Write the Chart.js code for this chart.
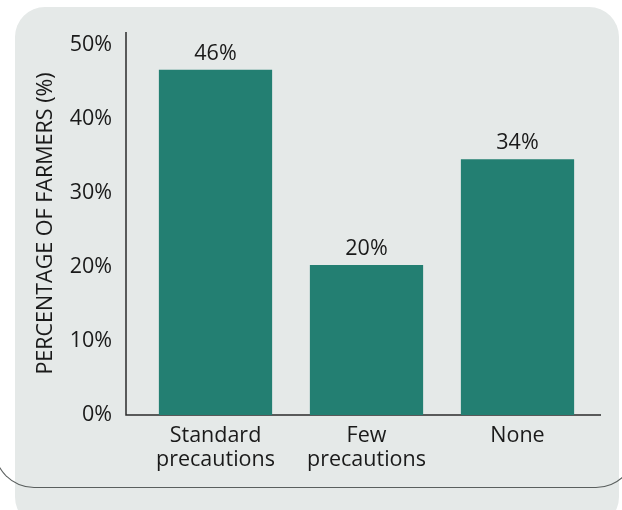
<!DOCTYPE html>
<html>
<head>
<meta charset="utf-8">
<script src="https://cdn.jsdelivr.net/npm/chart.js@4"></script>
<style>
  html, body { margin: 0; padding: 0; background: #fff; }
  #wrap { position: relative; width: 622px; height: 510px; overflow: hidden; }
  #panel {
    position: absolute; left: 15px; top: 7px; width: 604px; height: 520px;
    background: #e5e9e8; border-radius: 30px;
  }
  #rule {
    position: absolute; left: -6px; top: 300px; width: 640px; height: 187px;
    border: 1.5px solid #5a5f5e; border-top: none;
    border-radius: 0 0 40px 40px;
  }
  #chart-box { position: absolute; left: 0; top: 0; width: 622px; height: 510px; }
</style>
</head>
<body>
<div id="wrap">
  <div id="panel"></div>
  <div id="rule"></div>
  <div id="chart-box"><canvas id="chart"></canvas></div>
</div>
<script>
const categories = [['Standard', 'precautions'], ['Few', 'precautions'], 'None'];
const farmerShare = [46.7, 20.3, 34.6];
const valueLabels = ['46%', '20%', '34%'];
const yTicks = [0, 10, 20, 30, 40, 50];

const FONT = '"Open Sans", "Noto Sans", sans-serif';
const SIZE = 21.5;
const TEXT = '#1a1a1a';

// axis lines sit a little outside the category area, so draw them by hand
const axisLines = {
  id: 'axisLines',
  beforeDatasetsDraw(chart) {
    const ctx = chart.ctx;
    const a = chart.chartArea;
    ctx.save();
    ctx.strokeStyle = '#2b2b2b';
    ctx.lineWidth = 1.5;
    ctx.beginPath();
    ctx.moveTo(a.left - 14, a.top);
    ctx.lineTo(a.left - 14, a.bottom);
    ctx.lineTo(a.right + 8, a.bottom);
    ctx.stroke();
    ctx.restore();
  }
};

const barValues = {
  id: 'barValues',
  afterDatasetsDraw(chart) {
    const ctx = chart.ctx;
    const meta = chart.getDatasetMeta(0);
    ctx.save();
    ctx.fillStyle = TEXT;
    ctx.font = SIZE + 'px ' + FONT;
    ctx.textAlign = 'center';
    ctx.textBaseline = 'alphabetic';
    meta.data.forEach((bar, i) => {
      ctx.fillText(valueLabels[i], bar.x, bar.y - 10);
    });
    ctx.restore();
  }
};

new Chart(document.getElementById('chart').getContext('2d'), {
  type: 'bar',
  plugins: [axisLines, barValues],
  data: {
    labels: categories,
    datasets: [{
      data: farmerShare,
      backgroundColor: '#237f72',
      borderWidth: 0,
      categoryPercentage: 1,
      barPercentage: 0.75
    }]
  },
  options: {
    responsive: true,
    maintainAspectRatio: false,
    animation: false,
    layout: { padding: { top: 32, right: 29, left: 0, bottom: 0 } },
    plugins: { legend: { display: false }, tooltip: { enabled: false } },
    scales: {
      x: {
        grid: { display: false, drawTicks: false },
        border: { display: false },
        ticks: { color: TEXT, font: { family: FONT, size: SIZE, lineHeight: 1.1 }, padding: 9 },
        afterFit(scale) {
          scale.height = 95;
          scale.paddingLeft = 0;
          scale.paddingRight = 0;
        }
      },
      y: {
        min: 0,
        max: 51.8,
        grid: { display: false, drawTicks: false },
        border: { display: false },
        afterFit(scale) {
          scale.width = 140;
          scale.paddingTop = 0;
          scale.paddingBottom = 0;
        },
        afterBuildTicks(scale) { scale.ticks = yTicks.map(v => ({ value: v })); },
        ticks: {
          color: TEXT,
          font: { family: FONT, size: SIZE },
          padding: 28,
          callback: (v) => v + '%'
        },
        title: {
          display: true,
          text: 'PERCENTAGE OF FARMERS (%)',
          color: TEXT,
          font: { family: FONT, size: SIZE, lineHeight: 1.2 },
          padding: { top: 33, bottom: 0 }
        }
      }
    }
  }
});
</script>
</body>
</html>
